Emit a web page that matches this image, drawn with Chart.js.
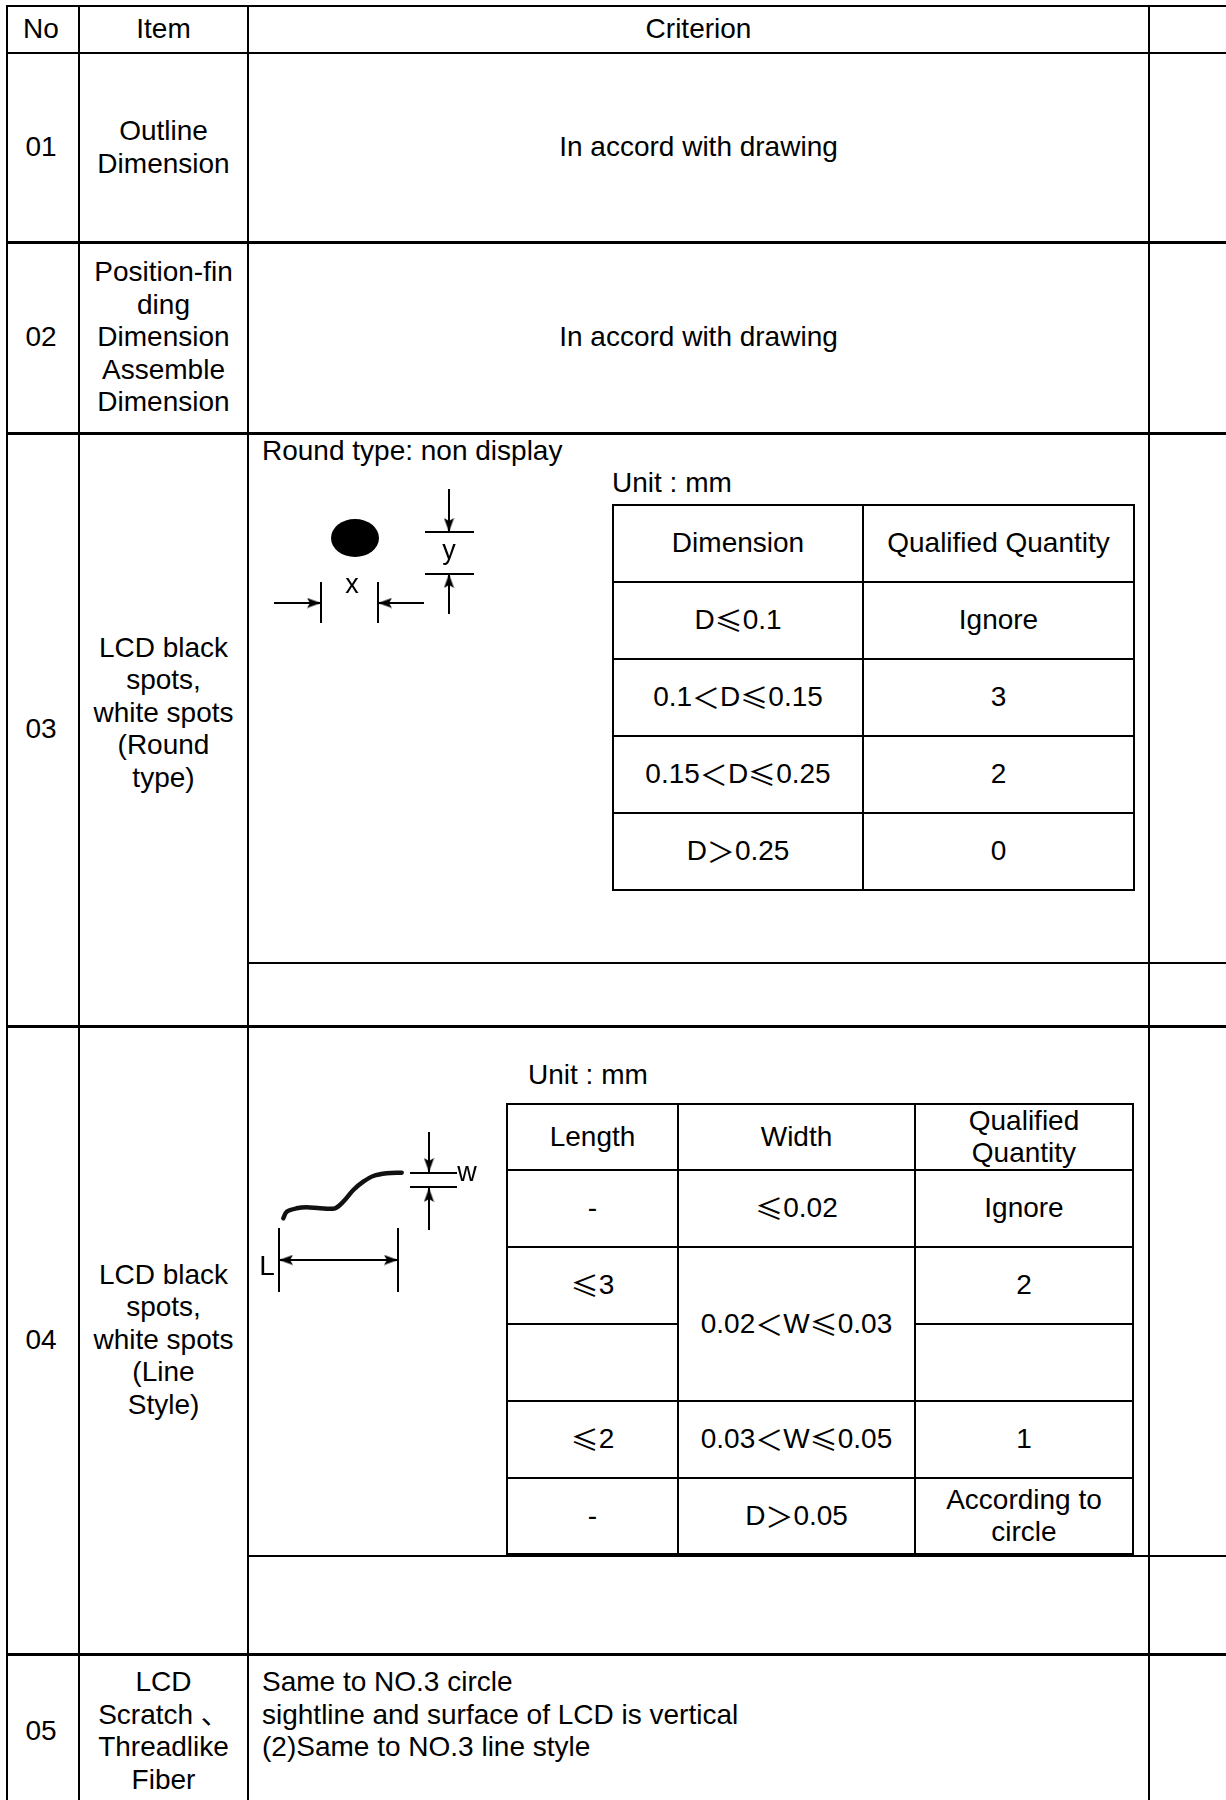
<!DOCTYPE html>
<html>
<head>
<meta charset="utf-8">
<script src="https://cdn.jsdelivr.net/npm/chart.js@4.4.0/dist/chart.umd.min.js"></script>
<style>
  html, body { margin: 0; padding: 0; background: #fff; }
  body { width: 1226px; height: 1800px; overflow: hidden;
         font-family: "Liberation Sans", Arial, "Noto Sans CJK SC", sans-serif;
         font-size: 28px; color: #000; }
  #page { position: relative; width: 1226px; height: 1800px; overflow: hidden; }
  .ln { position: absolute; background: #000; }
  .cell { position: absolute; display: flex; align-items: center; justify-content: center;
          text-align: center; line-height: 32.5px; white-space: nowrap; }
  .txt { position: absolute; line-height: 32.5px; white-space: nowrap; }
  .lbl { position: absolute; transform: translate(-50%, -50%); line-height: 1; white-space: nowrap; }
  .cjk { font-family: "Noto Sans CJK SC", sans-serif; }
  canvas.dg { position: absolute; }
</style>
</head>
<body>
<div id="page"></div>
<script>
// ================= DATA =================
const headers = ['No', 'Item', 'Criterion'];
const rowNos = ['01', '02', '03', '04', '05'];
const rowItems = [
  'Outline\nDimension',
  'Position-fin\nding\nDimension\nAssemble\nDimension',
  'LCD black\nspots,\nwhite spots\n(Round\ntype)',
  'LCD black\nspots,\nwhite spots\n(Line\nStyle)',
  'LCD\nScratch \u3001\nThreadlike\nFiber'
];
const sameCriterion = 'In accord with drawing';
const roundTitle = 'Round type: non display';
const unitLabel = 'Unit : mm';
const spotHeaders = ['Dimension', 'Qualified Quantity'];
const spotDimensions = ['D≤0.1', '0.1＜D≤0.15', '0.15＜D≤0.25', 'D＞0.25'];
const spotQuantities = ['Ignore', '3', '2', '0'];
const lineHeaders = ['Length', 'Width', 'Qualified\nQuantity'];
const lineLengths = ['-', '≤3', '', '≤2', '-'];
const lineWidths = ['≤0.02', '0.02＜W≤0.03', '0.03＜W≤0.05', 'D＞0.05'];
const lineQuantities = ['Ignore', '2', '', '1', 'According to\ncircle'];
const row05Lines = ['Same to NO.3 circle', 'sightline and surface of LCD is vertical', '(2)Same to NO.3 line style'];

// Diagram 1 (round spot) – values in diagram units
const spotCenterX = [95];
const spotCenterY = [68];
const spotDimSegX = [[189, 189], [165, 214], [165, 214], [189, 189], [61, 61], [118, 118], [14, 61], [118, 164]];
const spotDimSegY = [[19, 62], [62, 62], [104, 104], [104, 144], [112, 153], [112, 153], [133, 133], [133, 133]];
const spotArrowX = [189, 189, 61, 118];
const spotArrowY = [62, 104, 133, 133];
const spotArrowDir = [180, 0, 90, 270];
const spotLabels = ['y', 'x'];
const spotLabelX = [189, 92];
const spotLabelY = [80, 114];

// Diagram 2 (line style) – values in diagram units
const fiberX = [23.3, 26.7, 36.7, 46.7, 60, 75, 83.3, 93.3, 103.3, 113.3, 126.7, 141.7];
const fiberY = [98.3, 91.7, 88.3, 87.3, 88.3, 88.3, 81.7, 70, 61.7, 56, 53.3, 52.7];
const lineDimSegX = [[169, 169], [150, 197], [150, 197], [169, 169], [19, 19], [138, 138], [19, 138]];
const lineDimSegY = [[12, 52], [53, 53], [67, 67], [68, 110], [108, 172], [108, 172], [140, 140]];
const lineArrowX = [169, 169, 19, 138];
const lineArrowY = [52, 68, 140, 140];
const lineArrowDir = [180, 0, 270, 90];
const lineLabels = ['w', 'L'];
const lineLabelX = [207, 7];
const lineLabelY = [52, 146];

// ================= LAYOUT =================
const page = document.getElementById('page');
function fmt(s) {
  return s.replace(/&/g, '&amp;').replace(/</g, '&lt;')
          .replace(/([≤＜＞])/g, '<span class="cjk">$1</span>')
          .replace(/\n/g, '<br>');
}
function H(x1, x2, y, t) {
  t = t || 2;
  const d = document.createElement('div'); d.className = 'ln';
  Object.assign(d.style, { left: x1 + 'px', top: (y - t / 2) + 'px', width: (x2 - x1) + 'px', height: t + 'px' });
  page.appendChild(d);
}
function V(x, y1, y2, t) {
  t = t || 2;
  const d = document.createElement('div'); d.className = 'ln';
  Object.assign(d.style, { left: (x - t / 2) + 'px', top: y1 + 'px', width: t + 'px', height: (y2 - y1) + 'px' });
  page.appendChild(d);
}
function cell(x1, y1, x2, y2, s) {
  const d = document.createElement('div'); d.className = 'cell';
  Object.assign(d.style, { left: x1 + 'px', top: y1 + 'px', width: (x2 - x1) + 'px', height: (y2 - y1) + 'px' });
  d.innerHTML = fmt(s);
  page.appendChild(d);
}
function txt(x, y, s) {
  const d = document.createElement('div'); d.className = 'txt';
  Object.assign(d.style, { left: x + 'px', top: y + 'px' });
  d.innerHTML = fmt(s);
  page.appendChild(d);
}
function lbl(x, y, s, size) {
  const d = document.createElement('div'); d.className = 'lbl';
  Object.assign(d.style, { left: x + 'px', top: y + 'px', fontSize: size + 'px' });
  d.textContent = s;
  page.appendChild(d);
}

// main grid
const colX = [7, 79, 248, 1149];
colX.forEach(x => V(x, 5, 1800, 2));
H(6, 1226, 6, 2);
H(6, 1226, 53, 2);
H(6, 1226, 242, 3);
H(6, 1226, 433, 3);
H(248, 1226, 963, 2);
H(6, 1226, 1026, 3);
H(248, 1226, 1556, 2);
H(6, 1226, 1654, 3);

// header
cell(7, 6, 75, 53, headers[0]);
cell(79, 6, 248, 53, headers[1]);
cell(248, 6, 1149, 53, headers[2]);

const rowTop = [53, 242, 433, 1026, 1654];
const rowBot = [242, 433, 1026, 1654, 1808];
const itemBot = [242, 433, 993, 1654, 1808];
rowNos.forEach((n, i) => cell(7, rowTop[i], 75, rowBot[i], n));
rowItems.forEach((s, i) => cell(79, rowTop[i], 248, itemBot[i], s));
cell(248, rowTop[0], 1149, rowBot[0], sameCriterion);
cell(248, rowTop[1], 1149, rowBot[1], sameCriterion);

// row 03 criterion
txt(262, 435, roundTitle);
txt(612, 467, unitLabel);
const sCols = [613, 863, 1134];
const sRows = [505, 582, 659, 736, 813, 890];
sCols.forEach(x => V(x, sRows[0] - 1, sRows[5] + 1, 2));
sRows.forEach(y => H(sCols[0], sCols[2], y, 2));
cell(sCols[0], sRows[0], sCols[1], sRows[1], spotHeaders[0]);
cell(sCols[1], sRows[0], sCols[2], sRows[1], spotHeaders[1]);
spotDimensions.forEach((s, i) => cell(sCols[0], sRows[i + 1], sCols[1], sRows[i + 2], s));
spotQuantities.forEach((s, i) => cell(sCols[1], sRows[i + 1], sCols[2], sRows[i + 2], s));

// row 04 criterion
txt(528, 1059, unitLabel);
const lCols = [507, 678, 915, 1133];
const lRows = [1104, 1170, 1247, 1324, 1401, 1478, 1554];
lCols.forEach(x => V(x, lRows[0] - 1, lRows[6] + 1, 2));
[0, 1, 2, 4, 5].forEach(i => H(lCols[0], lCols[3], lRows[i], 2));
H(lCols[0], lCols[3], lRows[6], 3);
H(lCols[0], lCols[1], lRows[3], 2);
H(lCols[2], lCols[3], lRows[3], 2);
lineHeaders.forEach((s, c) => cell(lCols[c], lRows[0], lCols[c + 1], lRows[1], s));
lineLengths.forEach((s, i) => cell(lCols[0], lRows[i + 1], lCols[1], lRows[i + 2], s));
lineQuantities.forEach((s, i) => cell(lCols[2], lRows[i + 1], lCols[3], lRows[i + 2], s));
const widthSpan = [[1, 2], [2, 4], [4, 5], [5, 6]];
lineWidths.forEach((s, i) => cell(lCols[1], lRows[widthSpan[i][0]], lCols[2], lRows[widthSpan[i][1]], s));

// row 05 criterion
row05Lines.forEach((s, i) => txt(262, 1666 + i * 32.5, s));

// ================= DIAGRAMS (Chart.js) =================
function arrowImage() {
  const c = document.createElement('canvas'); c.width = 11; c.height = 28;
  const g = c.getContext('2d');
  g.fillStyle = '#000';
  g.beginPath(); g.moveTo(5.5, 14); g.lineTo(10.5, 28); g.lineTo(5.5, 25); g.lineTo(0.5, 28); g.closePath(); g.fill();
  return c;
}
function ellipseImage() {
  const c = document.createElement('canvas'); c.width = 50; c.height = 40;
  const g = c.getContext('2d');
  g.fillStyle = '#000';
  g.beginPath(); g.ellipse(25, 20, 24, 19, 0, 0, Math.PI * 2); g.fill();
  return c;
}
function segDatasets(sx, sy) {
  return sx.map((xs, i) => ({
    type: 'scatter', showLine: true, clip: false,
    data: [{ x: xs[0], y: sy[i][0] }, { x: xs[1], y: sy[i][1] }],
    borderColor: '#000', borderWidth: 2, pointRadius: 0, tension: 0
  }));
}
function arrowDataset(ax, ay, dir) {
  return {
    type: 'scatter', clip: false,
    data: ax.map((x, i) => ({ x: x, y: ay[i] })),
    pointStyle: arrowImage(), pointRadius: 4, pointRotation: dir,
    backgroundColor: '#000', borderColor: '#000'
  };
}
function makeDiagram(left, top, w, h, datasets) {
  const cv = document.createElement('canvas');
  cv.className = 'dg'; cv.width = w; cv.height = h;
  Object.assign(cv.style, { left: left + 'px', top: top + 'px', width: w + 'px', height: h + 'px' });
  page.appendChild(cv);
  new Chart(cv, {
    type: 'scatter',
    data: { datasets: datasets },
    options: {
      responsive: false, animation: false, devicePixelRatio: 1,
      layout: { padding: 0, autoPadding: false },
      plugins: { legend: { display: false }, tooltip: { enabled: false } },
      events: [],
      scales: {
        x: { type: 'linear', min: 0, max: w, display: false },
        y: { type: 'linear', min: 0, max: h, reverse: true, display: false }
      }
    }
  });
}

// diagram 1
const d1 = { left: 260, top: 470, w: 230, h: 170 };
makeDiagram(d1.left, d1.top, d1.w, d1.h, [
  { type: 'scatter', clip: false, data: spotCenterX.map((x, i) => ({ x: x, y: spotCenterY[i] })),
    pointStyle: ellipseImage(), pointRadius: 20 },
  ...segDatasets(spotDimSegX, spotDimSegY),
  arrowDataset(spotArrowX, spotArrowY, spotArrowDir)
]);
spotLabels.forEach((s, i) => lbl(d1.left + spotLabelX[i], d1.top + spotLabelY[i], s, 27));

// diagram 2
const d2 = { left: 260, top: 1120, w: 230, h: 190 };
makeDiagram(d2.left, d2.top, d2.w, d2.h, [
  { type: 'line', clip: false, data: fiberX.map((x, i) => ({ x: x, y: fiberY[i] })),
    borderColor: '#111', borderWidth: 4.5, tension: 0.3, pointRadius: 0,
    borderCapStyle: 'round', borderJoinStyle: 'round', fill: false },
  ...segDatasets(lineDimSegX, lineDimSegY),
  arrowDataset(lineArrowX, lineArrowY, lineArrowDir)
]);
lineLabels.forEach((s, i) => lbl(d2.left + lineLabelX[i], d2.top + lineLabelY[i], s, i === 0 ? 27 : 28));
</script>
</body>
</html>
